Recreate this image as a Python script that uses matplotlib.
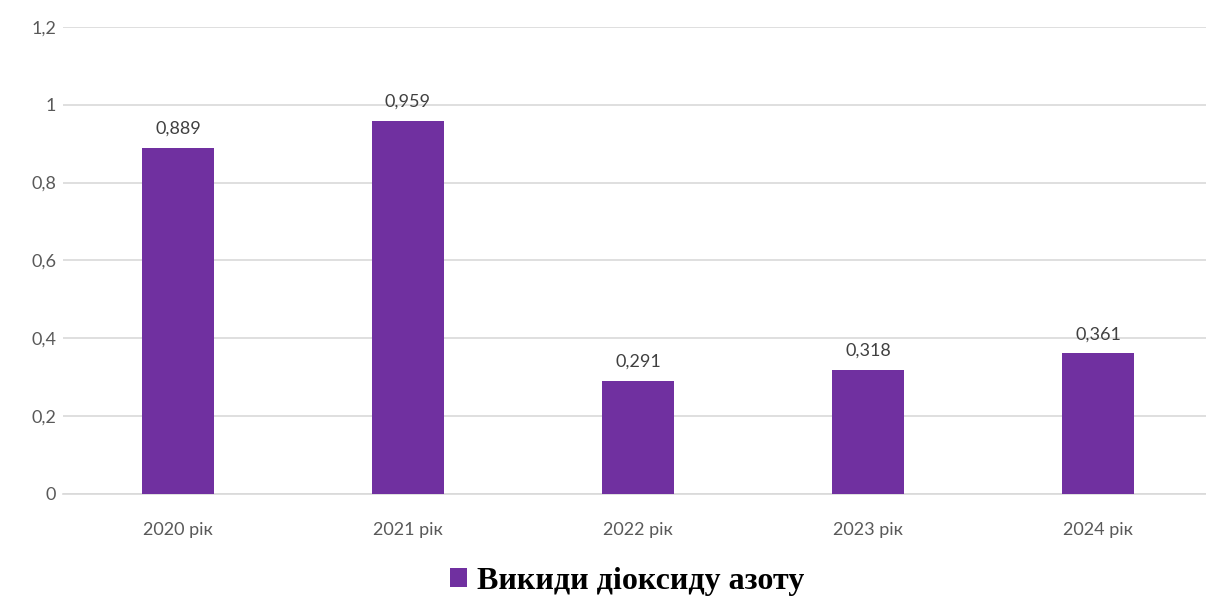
import matplotlib.pyplot as plt
from matplotlib.ticker import FuncFormatter

roky = ['2020 рік', '2021 рік', '2022 рік', '2023 рік', '2024 рік']
vykydy = [0.889, 0.959, 0.291, 0.318, 0.361]
pidpys = 'Викиди діоксиду азоту'

kolir = '#7030A0'
siryi = '#595959'

fig = plt.figure(figsize=(12.06, 5.98), dpi=100)
ax = fig.add_axes([0.0522, 0.174, 0.9536, 0.781])

x = range(len(roky))
bary = ax.bar(x, vykydy, width=0.31, color=kolir, label=pidpys, zorder=3)

# підписи над стовпчиками
for xi, v in zip(x, vykydy):
    ax.annotate(f'{v:.3f}'.replace('.', ','), (xi, v), xytext=(0, 8),
                textcoords='offset points', ha='center', va='bottom',
                fontsize=13, color='#404040', family='Lato')

ax.set_xlim(-0.5, len(roky) - 0.5)
ax.set_ylim(0, 1.2)
ax.set_yticks([0, 0.2, 0.4, 0.6, 0.8, 1.0, 1.2])
ax.yaxis.set_major_formatter(FuncFormatter(lambda v, p: f'{v:g}'.replace('.', ',')))
ax.set_xticks(list(x))
ax.set_xticklabels(roky)

ax.grid(axis='y', color='#d9d9d9', linewidth=1.2, zorder=0)
for s in ['top', 'right', 'left']:
    ax.spines[s].set_visible(False)
ax.spines['bottom'].set_color('#d9d9d9')
ax.spines['bottom'].set_linewidth(1.2)
ax.tick_params(length=0, colors=siryi, labelsize=13)
ax.tick_params(axis='x', pad=20)
ax.tick_params(axis='y', pad=5)
for t in ax.get_xticklabels() + ax.get_yticklabels():
    t.set_family('Lato')

leg = fig.legend(handles=[bary], labels=[pidpys], loc='lower center',
                 bbox_to_anchor=(0.52, -0.045), frameon=False,
                 prop={'family': 'Liberation Serif', 'weight': 'bold', 'size': 23},
                 handlelength=0.55, handleheight=0.55, handletextpad=0.3)

fig.savefig('out.png', dpi=100)
